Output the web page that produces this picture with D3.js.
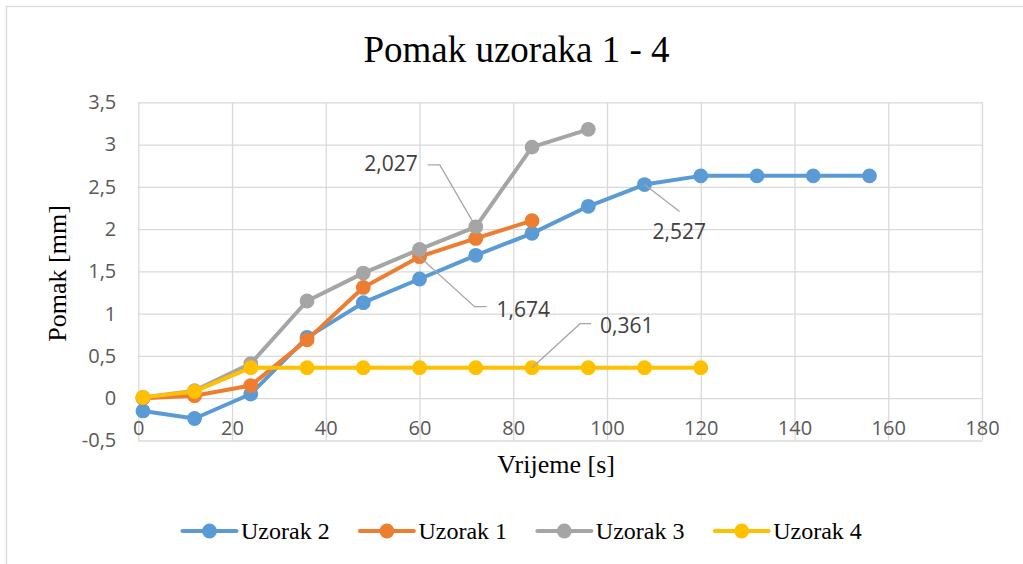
<!DOCTYPE html>
<html>
<head>
<meta charset="utf-8">
<script src="https://cdn.jsdelivr.net/npm/d3@7"></script>
<style>
  html, body { margin: 0; padding: 0; background: #fff; }
  svg { display: block; }
</style>
</head>
<body>
<svg id="chart" width="1023" height="564"></svg>
<script>
// Displacement of samples 1-4 over time
const seriesNames = ["Uzorak 2", "Uzorak 1", "Uzorak 3", "Uzorak 4"];
const seriesColors = ["#5B9BD5", "#ED7D31", "#A5A5A5", "#FFC000"];

const timeUzorak2 = [1, 12, 24, 36, 48, 60, 72, 84, 96, 108, 120, 132, 144, 156];
const pomakUzorak2 = [-0.15, -0.24, 0.05, 0.72, 1.13, 1.41, 1.69, 1.95, 2.27, 2.527, 2.63, 2.63, 2.63, 2.63];

const timeUzorak1 = [1, 12, 24, 36, 48, 60, 72, 84];
const pomakUzorak1 = [0.0, 0.03, 0.15, 0.69, 1.31, 1.674, 1.89, 2.1];

const timeUzorak3 = [1, 12, 24, 36, 48, 60, 72, 84, 96];
const pomakUzorak3 = [0.01, 0.09, 0.41, 1.15, 1.48, 1.76, 2.027, 2.97, 3.18];

const timeUzorak4 = [1, 12, 24, 36, 48, 60, 72, 84, 96, 108, 120];
const pomakUzorak4 = [0.01, 0.08, 0.361, 0.361, 0.361, 0.361, 0.361, 0.361, 0.361, 0.361, 0.361];

const xTicks = [0, 20, 40, 60, 80, 100, 120, 140, 160, 180];
const yTicks = [-0.5, 0, 0.5, 1, 1.5, 2, 2.5, 3, 3.5];

const titleText = "Pomak uzoraka 1 - 4";
const xTitle = "Vrijeme [s]";
const yTitle = "Pomak [mm]";

// Labelled points: series index, point index
const labelledPoints = [
  { series: 2, index: 6 },
  { series: 1, index: 5 },
  { series: 0, index: 9 },
  { series: 3, index: 7 }
];

const seriesTimes = [timeUzorak2, timeUzorak1, timeUzorak3, timeUzorak4];
const seriesValues = [pomakUzorak2, pomakUzorak1, pomakUzorak3, pomakUzorak4];

// ---- layout ----
const svg = d3.select("#chart");
const plot = { left: 138.3, top: 102.3, right: 982, bottom: 440.5 };
const W = plot.right - plot.left, H = plot.bottom - plot.top;

const locale = d3.formatLocale({ decimal: ",", thousands: ".", grouping: [3], currency: ["", ""], minus: "-" });
const fmtTick = locale.format("~r");
const fmtLabel = locale.format(".3f");

const x = d3.scaleLinear().domain([0, 180]).range([0, W]);
const y = d3.scaleLinear().domain([-0.5, 3.5]).range([H, 0]);

// outer chart frame
svg.append("rect")
  .attr("x", 6.5).attr("y", 6.5).attr("width", 1100).attr("height", 700)
  .attr("fill", "#fff").attr("stroke", "#d9d9d9").attr("stroke-width", 1.3);

// title
svg.append("text")
  .attr("x", 516.5).attr("y", 62)
  .attr("text-anchor", "middle")
  .attr("font-family", "'Liberation Serif', 'Times New Roman', serif")
  .attr("font-size", 37).attr("fill", "#000")
  .text(titleText);

const g = svg.append("g").attr("transform", `translate(${plot.left},${plot.top})`);

// gridlines
const gridY = g.append("g")
  .call(d3.axisLeft(y).tickValues(yTicks).tickSize(-W).tickFormat(""));
const gridX = g.append("g").attr("transform", `translate(0,${H})`)
  .call(d3.axisBottom(x).tickValues(xTicks).tickSize(-H).tickFormat(""));
[gridY, gridX].forEach(a => {
  a.select(".domain").remove();
  a.selectAll(".tick line").attr("stroke", "#d9d9d9").attr("stroke-width", 1.3);
});

// axis tick labels
const tickFont = "'Open Sans', 'Liberation Sans', sans-serif";
const yAxis = g.append("g")
  .call(d3.axisLeft(y).tickValues(yTicks).tickSize(0).tickPadding(22).tickFormat(fmtTick));
const xAxis = g.append("g").attr("transform", `translate(0,${y(0)})`)
  .call(d3.axisBottom(x).tickValues(xTicks).tickSize(0).tickPadding(23).tickFormat(fmtTick));
[yAxis, xAxis].forEach(a => {
  a.select(".domain").remove();
  a.selectAll(".tick text")
    .attr("font-family", tickFont).attr("font-size", 20).attr("fill", "#595959");
});

// axis titles
svg.append("text")
  .attr("x", plot.left + W / 2 - 4).attr("y", 473)
  .attr("text-anchor", "middle")
  .attr("font-family", "'Liberation Serif', 'Times New Roman', serif")
  .attr("font-size", 26).attr("fill", "#000")
  .text(xTitle);
svg.append("text")
  .attr("transform", `translate(66,${plot.top + H / 2 + 2}) rotate(-90)`)
  .attr("text-anchor", "middle")
  .attr("font-family", "'Liberation Serif', 'Times New Roman', serif")
  .attr("font-size", 26).attr("fill", "#000")
  .text(yTitle);

// series
const line = d3.line().x(d => x(d[0])).y(d => y(d[1]));
seriesNames.forEach((name, i) => {
  const pts = seriesTimes[i].map((t, j) => [t, seriesValues[i][j]]);
  const sg = g.append("g");
  sg.append("path").datum(pts)
    .attr("d", line).attr("fill", "none")
    .attr("stroke", seriesColors[i]).attr("stroke-width", 4)
    .attr("stroke-linejoin", "round").attr("stroke-linecap", "round");
  sg.selectAll("circle").data(pts).join("circle")
    .attr("cx", d => x(d[0])).attr("cy", d => y(d[1]))
    .attr("r", 7.4).attr("fill", seriesColors[i]);
});

// data labels with leader lines
const labelLayout = [
  // label offset from its point, text anchor, leader path (relative to the point)
  { tx: -58, ty: -63, anchor: "end", leader: [[0, 0], [-36, -62], [-48, -62]] },
  { tx: 77, ty: 53, anchor: "start", leader: [[0, 0], [55, 50], [67, 50]] },
  { tx: 8, ty: 47, anchor: "start", leader: [[0, 0], [35, 27]] },
  { tx: 68, ty: -42, anchor: "start", leader: [[0, 0], [48, -44], [59, -44]] }
];
const labelG = g.append("g");
labelledPoints.forEach((lp, k) => {
  const t = seriesTimes[lp.series][lp.index];
  const v = seriesValues[lp.series][lp.index];
  const px = x(t), py = y(v);
  const L = labelLayout[k];
  labelG.append("path")
    .attr("d", d3.line()(L.leader.map(p => [px + p[0], py + p[1]])))
    .attr("fill", "none").attr("stroke", "#a6a6a6").attr("stroke-width", 1.3);
  labelG.append("text")
    .attr("x", px + L.tx).attr("y", py + L.ty).attr("dy", "0.35em")
    .attr("text-anchor", L.anchor)
    .attr("font-family", tickFont).attr("font-size", 21).attr("fill", "#404040")
    .text(fmtLabel(v));
});

// legend
const legend = svg.append("g").attr("transform", "translate(182.5,531)");
seriesNames.forEach((name, i) => {
  const item = legend.append("g").attr("transform", `translate(${i * 177.4},0)`);
  item.append("line").attr("x1", 0).attr("x2", 54).attr("y1", 0).attr("y2", 0)
    .attr("stroke", seriesColors[i]).attr("stroke-width", 4).attr("stroke-linecap", "round");
  item.append("circle").attr("cx", 27).attr("cy", 0).attr("r", 7.4).attr("fill", seriesColors[i]);
  item.append("text").attr("x", 58.5).attr("y", 0).attr("dy", "0.33em")
    .attr("font-family", "'Liberation Serif', 'Times New Roman', serif")
    .attr("font-size", 24).attr("fill", "#000")
    .text(name);
});
</script>
</body>
</html>
